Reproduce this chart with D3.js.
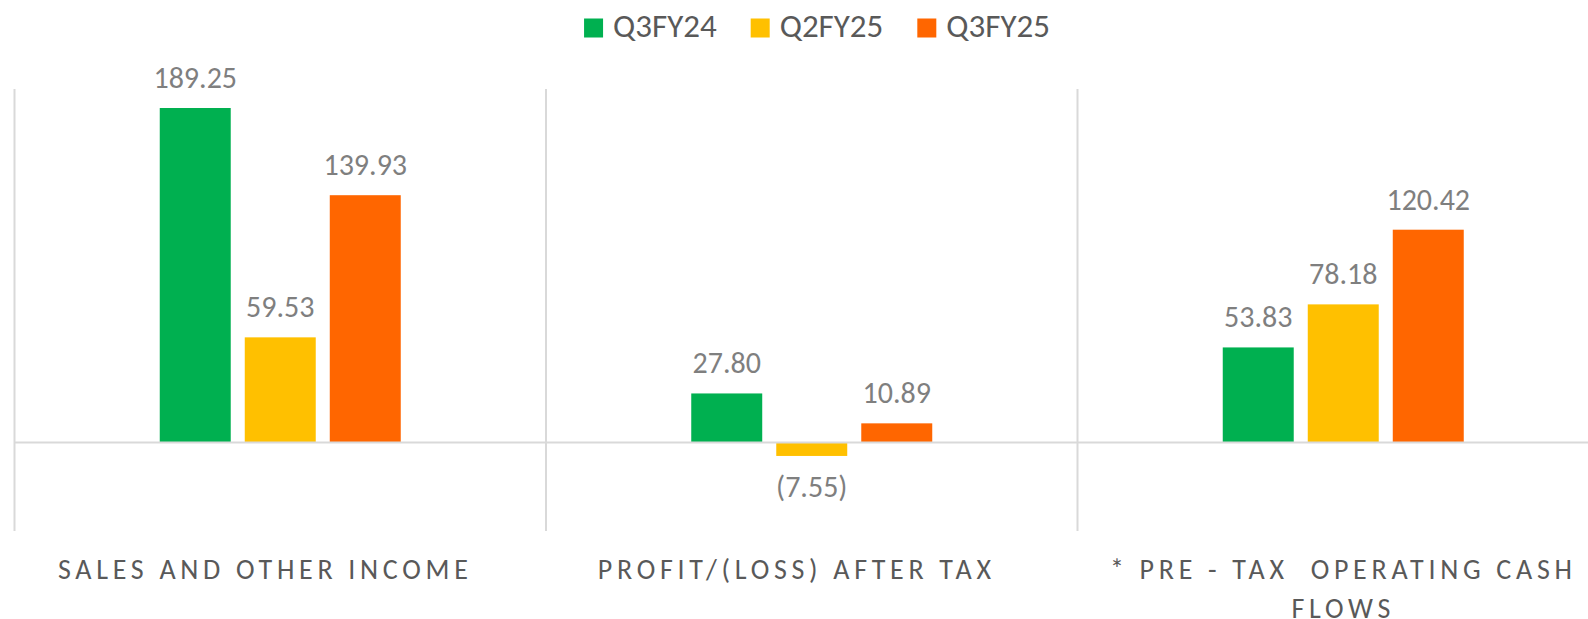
<!DOCTYPE html>
<html>
<head>
<meta charset="utf-8">
<script src="https://cdn.jsdelivr.net/npm/d3@7"></script>
<style>
  html, body { margin: 0; padding: 0; background: #fff; }
  svg { display: block; font-family: Carlito, Calibri, Lato, sans-serif; }
</style>
</head>
<body>
<svg id="chart" width="1588" height="619"></svg>
<script>
// chart values
const categories = [
  ['SALES AND OTHER INCOME'],
  ['PROFIT/(LOSS) AFTER TAX'],
  ['* PRE - TAX  OPERATING CASH', 'FLOWS']
];
const series = ['Q3FY24', 'Q2FY25', 'Q3FY25'];
const q3fy24 = [189.25, 27.80, 53.83];
const q2fy25 = [59.53, -7.55, 78.18];
const q3fy25 = [139.93, 10.89, 120.42];
const colors = ['#00B050', '#FFC000', '#FF6600'];

const values = [q3fy24, q2fy25, q3fy25];
const catKeys = categories.map(c => c.join(' '));

// layout
const plot = { left: 14.5, right: 1609, top: 89, bottom: 531 };
const labelShift = [-15, -15, 0];
const groupWidth = 241;

const svg = d3.select('#chart');

const x0 = d3.scaleBand()
  .domain(catKeys)
  .range([plot.left, plot.right])
  .padding(0);

const x1 = d3.scaleBand()
  .domain(series)
  .range([0, groupWidth])
  .paddingInner(0.165);

const y = d3.scaleLinear()
  .domain([-50, 200])
  .range([plot.bottom, plot.top]);

// vertical separators between categories
svg.append('g').selectAll('line')
  .data(catKeys)
  .enter().append('line')
  .attr('x1', d => x0(d))
  .attr('x2', d => x0(d))
  .attr('y1', plot.top)
  .attr('y2', plot.bottom)
  .attr('stroke', '#d9d9d9')
  .attr('stroke-width', 2);

// bars
const groups = svg.append('g').selectAll('g')
  .data(catKeys)
  .enter().append('g')
  .attr('transform', d => `translate(${x0(d) + (x0.bandwidth() - groupWidth) / 2},0)`);

groups.selectAll('rect')
  .data((d, i) => series.map((s, j) => ({ s, v: values[j][i], c: colors[j] })))
  .enter().append('rect')
  .attr('x', d => x1(d.s))
  .attr('width', x1.bandwidth())
  .attr('y', d => y(Math.max(0, d.v)))
  .attr('height', d => Math.abs(y(d.v) - y(0)))
  .attr('fill', d => d.c);

const fmt = v => v < 0 ? `(${Math.abs(v).toFixed(2)})` : v.toFixed(2);

groups.selectAll('text')
  .data((d, i) => series.map((s, j) => ({ s, v: values[j][i] })))
  .enter().append('text')
  .attr('x', d => x1(d.s) + x1.bandwidth() / 2)
  .attr('y', d => d.v >= 0 ? y(d.v) - 20 : y(d.v) + 41)
  .attr('text-anchor', 'middle')
  .attr('font-size', 30)
  .attr('fill', '#7f7f7f')
  .text(d => fmt(d.v));

// zero axis line
svg.append('line')
  .attr('x1', plot.left)
  .attr('x2', plot.right)
  .attr('y1', y(0))
  .attr('y2', y(0))
  .attr('stroke', '#d9d9d9')
  .attr('stroke-width', 2);

// category labels
const catLabels = svg.append('g').selectAll('text')
  .data(categories)
  .enter().append('text')
  .attr('text-anchor', 'middle')
  .attr('font-size', 28)
  .attr('letter-spacing', 4.7)
  .attr('fill', '#595959')
  .style('white-space', 'pre')
  .attr('transform', (d, i) => `translate(${x0(catKeys[i]) + x0.bandwidth() / 2 + labelShift[i]},579)`);

catLabels.selectAll('tspan')
  .data(d => d)
  .enter().append('tspan')
  .attr('x', 0)
  .attr('y', (d, i) => i * 38.5)
  .text(d => d);

// legend
const legend = svg.append('g');
const items = legend.selectAll('g')
  .data(series)
  .enter().append('g');
items.append('rect')
  .attr('width', 19)
  .attr('height', 19)
  .attr('y', 18.5)
  .attr('fill', (d, i) => colors[i]);
items.append('text')
  .attr('x', 29)
  .attr('y', 37)
  .attr('font-size', 33)
  .attr('fill', '#595959')
  .text(d => d);

let off = 0;
const pos = [];
items.each(function () {
  pos.push(off);
  off += 29 + d3.select(this).select('text').node().getComputedTextLength() + 34;
});
const totalW = off - 34;
items.attr('transform', (d, i) => `translate(${817 - totalW / 2 + pos[i]},0)`);
</script>
</body>
</html>
